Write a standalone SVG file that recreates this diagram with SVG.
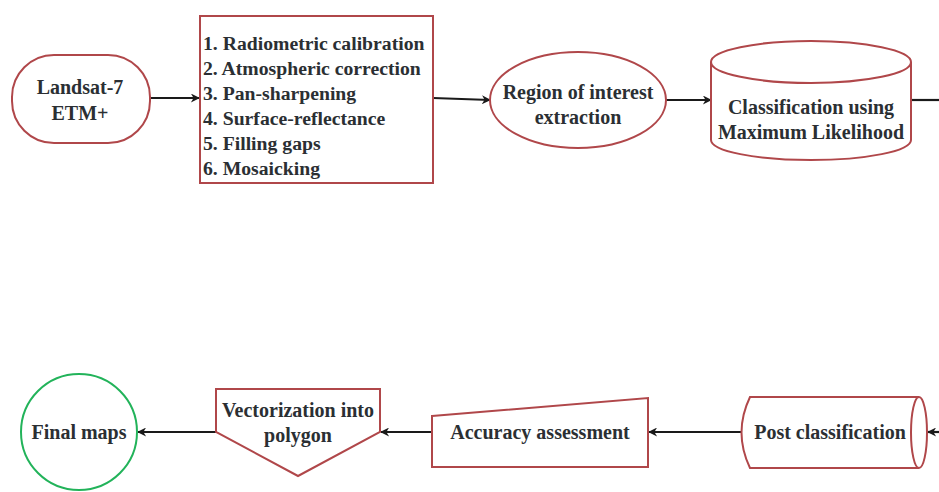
<svg xmlns="http://www.w3.org/2000/svg" width="939" height="492" viewBox="0 0 939 492">
<defs>
<style>
.n{fill:#fff;stroke:#b0474a;stroke-width:2}
.g{fill:#fff;stroke:#22b35a;stroke-width:2}
.t{font-family:"Liberation Serif","Times New Roman",serif;font-weight:bold;font-size:20px;fill:#2b2f33}
.c{text-anchor:middle}
.e{stroke:#1a1a1a;stroke-width:2.2;fill:none;marker-end:url(#ah)}
</style>
<marker id="ah" viewBox="0 0 10 10" refX="9" refY="5" markerWidth="10" markerHeight="9" markerUnits="userSpaceOnUse" orient="auto">
<path d="M0,0 L10,5 L0,10 L3,5 Z" fill="#1a1a1a"/>
</marker>
</defs>
<rect width="939" height="492" fill="#fff"/>
<g id="connectors">
<line class="e" x1="151" y1="98" x2="199" y2="98"/>
<line class="e" x1="433" y1="98" x2="490" y2="100"/>
<line class="e" x1="666" y1="100" x2="711" y2="100"/>
<line x1="911" y1="100" x2="939" y2="100" stroke="#1a1a1a" stroke-width="2.2"/>
<line class="e" x1="939" y1="432" x2="928" y2="432"/>
<line class="e" x1="742" y1="432" x2="649" y2="432"/>
<line class="e" x1="432" y1="432" x2="381" y2="432"/>
<line class="e" x1="216" y1="432" x2="138" y2="432"/>
</g>
<g id="landsat">
<rect class="n" x="12" y="55" width="138" height="88" rx="42" ry="42"/>
<text class="t c" x="80" y="94" font-size="21.5">Landsat-7</text>
<text class="t c" x="80" y="120" font-size="21.5">ETM+</text>
</g>
<g id="preprocessing">
<rect class="n" x="200" y="16" width="233" height="167"/>
<text class="t" x="203" y="50" style="font-size:19.7px">1. Radiometric calibration</text>
<text class="t" x="203" y="75" style="font-size:19.7px">2. Atmospheric correction</text>
<text class="t" x="203" y="100" style="font-size:19.7px">3. Pan-sharpening</text>
<text class="t" x="203" y="125" style="font-size:19.7px">4. Surface-reflectance</text>
<text class="t" x="203" y="150" style="font-size:19.7px">5. Filling gaps</text>
<text class="t" x="203" y="175" style="font-size:19.7px">6. Mosaicking</text>
</g>
<g id="roi">
<ellipse class="n" cx="578" cy="100" rx="88" ry="48"/>
<text class="t c" x="578" y="99">Region of interest</text>
<text class="t c" x="578" y="124">extraction</text>
</g>
<g id="classification">
<path class="n" d="M711,62 L711,140 A100,20 0 0 0 911,140 L911,62 A100,21 0 0 0 711,62 Z"/>
<path class="n" d="M711,62 A100,21 0 0 0 911,62" fill="none"/>
<text class="t c" x="811" y="114">Classification using</text>
<text class="t c" x="811" y="139">Maximum Likelihood</text>
</g>
<g id="post">
<path class="n" d="M750,397 L919,397 A8,35.5 0 0 1 919,468 L750,468 Q733,432.5 750,397 Z"/>
<path class="n" d="M919,397 A8,35.5 0 0 0 919,468" fill="none"/>
<text class="t c" x="830" y="439">Post classification</text>
</g>
<g id="accuracy">
<path class="n" d="M432,416 L648,398 L648,467 L432,467 Z"/>
<text class="t c" x="540" y="439">Accuracy assessment</text>
</g>
<g id="vectorization">
<path class="n" d="M216,389 L380,389 L380,432 L298,476 L216,432 Z"/>
<text class="t c" x="298" y="417">Vectorization into</text>
<text class="t c" x="298" y="442">polygon</text>
</g>
<g id="final">
<circle class="g" cx="79" cy="432" r="58"/>
<text class="t c" x="79" y="439">Final maps</text>
</g>
</svg>
